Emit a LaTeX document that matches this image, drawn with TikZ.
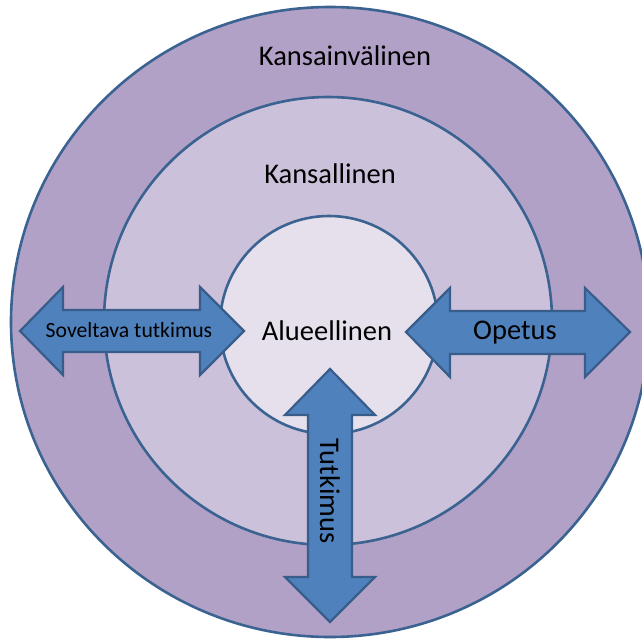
\documentclass[tikz,border=0pt]{standalone}
\usepackage{fontspec}
\setmainfont{Carlito}
\begin{document}
\definecolor{ringline}{HTML}{3B6391}
\definecolor{outerfill}{HTML}{B2A1C7}
\definecolor{middlefill}{HTML}{CCC1DA}
\definecolor{innerfill}{HTML}{E5E0EC}
\definecolor{arrowfill}{HTML}{4F81BD}
\definecolor{arrowline}{HTML}{385D8A}
\begin{tikzpicture}[x=1pt,y=-1pt,
  ring/.style={draw=ringline,line width=2.6pt},
  arrowbody/.style={fill=arrowfill,draw=arrowline,line width=2.2pt,line join=miter},
  label/.style={font=\fontsize{28.5}{32}\selectfont,text=black,inner sep=0pt,anchor=base}]
\clip (0,0) rectangle (642,642);
\useasboundingbox (0,0) rectangle (642,642);
\fill[white] (0,0) rectangle (642,642);

% three nested levels
\draw[ring,fill=outerfill] (330,322) ellipse [x radius=319,y radius=315];
\draw[ring,fill=middlefill] (328,321) circle [radius=224];
\draw[ring,fill=innerfill] (329,325) circle [radius=109];

% double arrows
\draw[arrowbody] (20,331) -- (63,287) -- (63,310) -- (200,310) -- (200,287)
  -- (244,331) -- (200,375) -- (200,352) -- (63,352) -- (63,375) -- cycle;
\draw[arrowbody] (406,332) -- (450,288) -- (450,311) -- (585,311) -- (585,288)
  -- (630,332) -- (585,377) -- (585,354) -- (450,354) -- (450,377) -- cycle;
\draw[arrowbody] (330,369) -- (375,415) -- (352,415) -- (352,577) -- (375,577)
  -- (330,622) -- (285,577) -- (308,577) -- (308,415) -- (285,415) -- cycle;

% level names
\node[label] (intl) at (345,66) {Kansainvälinen};
\node[label] (natl) at (330,183) {Kansallinen};
\node[label] (regl) at (327,340) {Alueellinen};

% arrow captions
\node[label,font=\fontsize{21.7}{26}\selectfont] (applied) at (129,337) {Soveltava tutkimus};
\node[label] (teach) at (515,339) {Opetus};
\node[label,rotate=-90,anchor=center] (research) at (330,491) {Tutkimus};
\end{tikzpicture}
\end{document}
